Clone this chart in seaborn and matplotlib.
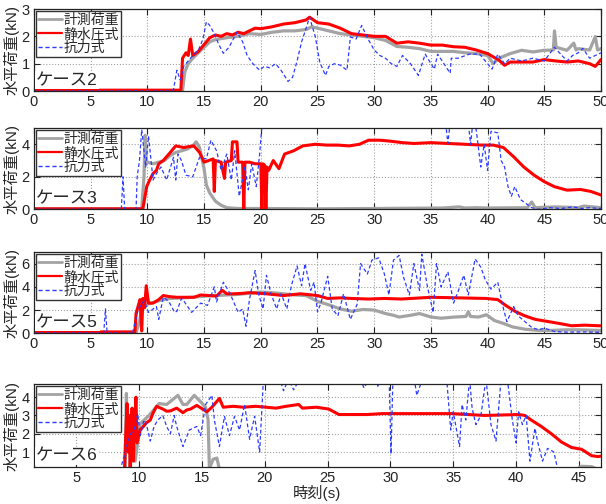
import matplotlib
matplotlib.use("Agg")
import matplotlib.pyplot as plt
import seaborn as sns
import pandas as pd
from matplotlib.lines import Line2D

# ---------------- data (time [s], horizontal load [kN]) ----------------
series_labels = ["計測荷重", "静水圧式", "抗力式"]
case_labels = ["ケース2", "ケース3", "ケース5", "ケース6"]

case2_meas = [(0, 0.02), (13.1, 0.02), (13.3, 0.7), (13.6, 1.0), (14.0, 1.2), (14.5, 1.4), (15.0, 1.6),
              (15.5, 1.8), (16.0, 1.88), (17.0, 1.95), (18.0, 2.0), (19.0, 2.1), (20.0, 2.07), (21.0, 2.15),
              (22.0, 2.2), (23.0, 2.2), (24.0, 2.25), (24.5, 2.35), (25.0, 2.3), (26.0, 2.2), (27.0, 2.1),
              (28.0, 2.05), (29.0, 2.0), (30.0, 1.95), (31.0, 1.85), (32.0, 1.63), (33.0, 1.6), (34.0, 1.55),
              (35.0, 1.45), (36.0, 1.45), (37.0, 1.45), (38.0, 1.4), (39.0, 1.37), (40.0, 1.3), (40.5, 1.0),
              (41.0, 1.2), (42.0, 1.37), (43.0, 1.49), (44.0, 1.43), (45.0, 1.49), (45.8, 1.5), (45.9, 2.2),
              (46.05, 1.6), (47.0, 1.49), (47.6, 1.75), (47.8, 1.5), (48.0, 1.55), (49.0, 1.5), (49.5, 1.99),
              (49.7, 1.5), (50.0, 1.55)]
case2_hydro = [(0, 0.03), (12.95, 0.03), (13.1, 1.2), (13.4, 1.4), (13.6, 1.3), (13.8, 1.9), (14.0, 1.3),
               (14.5, 1.45), (15.0, 1.7), (15.5, 1.95), (16.0, 2.05), (16.5, 2.0), (17.0, 2.1), (17.5, 2.05),
               (18.0, 2.15), (18.5, 2.1), (19.0, 2.2), (19.5, 2.3), (20.0, 2.28), (21.0, 2.35), (22.0, 2.45),
               (23.0, 2.5), (24.0, 2.6), (24.3, 2.7), (25.0, 2.5), (26.0, 2.45), (27.0, 2.3), (28.0, 2.1),
               (29.0, 2.05), (30.0, 2.0), (31.0, 2.0), (32.0, 1.75), (33.0, 1.8), (34.0, 1.75), (35.0, 1.68),
               (36.0, 1.68), (37.0, 1.62), (38.0, 1.6), (39.0, 1.5), (40.0, 1.37), (41.0, 1.13), (41.5, 0.94),
               (42.0, 1.06), (43.0, 1.06), (44.0, 1.06), (45.0, 1.15), (46.0, 1.1), (47.0, 1.06), (48.0, 1.1),
               (49.0, 1.0), (49.5, 0.9), (50.0, 1.15)]
case2_drag = [(0, 0.0), (11.8, 0.0), (12.3, 0.05), (12.6, 0.76), (12.9, 0.4), (13.2, 0.9), (13.6, 1.1),
              (14.0, 1.3), (14.5, 1.5), (14.9, 1.9), (15.2, 2.53), (15.5, 2.4), (15.9, 2.1), (16.3, 1.7),
              (16.7, 1.38), (17.2, 1.6), (17.9, 2.16), (18.4, 1.8), (18.8, 1.3), (19.3, 1.0), (19.9, 0.76),
              (20.3, 0.9), (20.8, 0.85), (21.3, 1.0), (21.8, 0.75), (22.4, 0.35), (22.8, 0.5), (23.2, 1.1),
              (23.6, 1.8), (24.0, 2.3), (24.3, 2.7), (24.8, 2.0), (25.2, 1.06), (25.7, 0.57), (26.0, 0.9),
              (26.5, 1.0), (27.0, 0.95), (27.6, 0.76), (27.9, 1.98), (28.4, 1.9), (28.9, 2.4), (29.4, 1.95),
              (30.0, 1.5), (30.5, 1.3), (31.0, 1.2), (31.5, 1.0), (32.0, 0.9), (32.5, 1.3), (33.2, 1.0),
              (33.9, 0.57), (34.5, 1.35), (35.3, 0.8), (35.6, 1.35), (36.7, 0.65), (36.8, 1.2), (37.4, 1.2),
              (38.4, 1.35), (39.3, 1.35), (40.4, 0.8), (40.9, 1.35), (41.5, 1.0), (42.0, 1.2), (43.0, 1.1),
              (44.0, 1.2), (45.0, 1.1), (45.9, 1.6), (47.0, 1.1), (47.5, 1.3), (48.0, 1.4), (48.4, 1.56),
              (49.0, 1.2), (50.0, 1.4)]

case3_meas = [(0, 0.03), (9.5, 0.03), (9.7, 2.0), (9.8, 4.55), (9.9, 2.8), (10.0, 2.9), (10.5, 2.8),
              (11.0, 2.9), (11.5, 3.0), (12.0, 3.3), (12.5, 3.5), (13.0, 3.6), (13.5, 3.7), (14.0, 3.9),
              (14.3, 4.15), (14.6, 3.8), (15.0, 2.5), (15.2, 1.5), (15.5, 1.0), (16.0, 0.5), (16.5, 0.25),
              (17.0, 0.1), (18.0, 0.05), (20.0, 0.05), (25.0, 0.03), (30.0, 0.05), (36.0, 0.08), (37.5, 0.15),
              (38.0, 0.08), (39.0, 0.1), (40.0, 0.08), (43.5, 0.1), (43.9, 0.45), (44.2, 0.1), (46.0, 0.15),
              (48.0, 0.1), (48.5, 0.2), (50.0, 0.1)]
case3_hydro = [(0, 0.03), (9.6, 0.03), (9.94, 1.4), (10.2, 1.8), (10.5, 2.2), (10.8, 2.4), (11.0, 2.8),
               (11.4, 3.0), (11.9, 3.4), (12.5, 3.9), (13.2, 3.8), (13.6, 3.85), (14.1, 3.9), (14.6, 3.5),
               (15.0, 2.9), (15.4, 3.0), (15.8, 3.1), (15.9, 1.1), (16.0, 3.0), (16.5, 2.9), (16.8, 1.9),
               (16.9, 2.9), (17.4, 3.0), (17.5, 4.15), (17.9, 4.15), (18.0, 2.9), (18.4, 2.9), (18.5, 0.0),
               (18.6, 2.9), (19.0, 2.9), (19.5, 2.8), (20.0, 2.8), (20.1, 0.0), (20.2, 2.8), (20.35, 2.7),
               (20.45, 0.0), (20.55, 2.6), (20.7, 2.4), (21.1, 3.0), (21.6, 2.5), (22.1, 3.4), (22.9, 3.6),
               (23.7, 3.9), (24.8, 4.0), (25.8, 3.95), (26.8, 3.95), (27.8, 3.9), (28.7, 4.0), (29.5, 4.25),
               (30.5, 4.25), (31.3, 4.2), (32.5, 4.1), (33.5, 4.05), (35.0, 4.1), (36.5, 4.05), (38.0, 4.0),
               (39.5, 3.95), (40.5, 3.95), (41.4, 3.8), (42.3, 3.23), (43.2, 2.6), (44.1, 2.1), (45.0, 1.7),
               (45.9, 1.39), (47.0, 1.18), (48.2, 1.22), (49.1, 1.1), (50.0, 0.88)]
case3_drag = [(0, 0.0), (7.7, 0.0), (7.85, 2.0), (8.0, 0.0), (9.0, 0.0), (9.1, 2.0), (9.3, 3.0), (9.5, 4.9),
              (9.85, 2.6), (10.1, 4.5), (10.5, 1.8), (10.8, 2.2), (11.2, 2.6), (11.7, 1.8), (12.3, 3.2),
              (12.5, 1.8), (12.7, 3.4), (13.0, 3.0), (13.4, 2.1), (14.0, 2.0), (14.6, 3.2), (15.2, 3.1),
              (15.6, 4.25), (16.1, 3.6), (16.5, 2.4), (17.0, 3.4), (17.4, 1.8), (17.7, 3.6), (18.1, 0.8),
              (18.6, 2.6), (18.9, 1.2), (19.2, 2.8), (19.6, 1.4), (19.9, 3.4), (20.2, 6.0), (36.2, 6.0),
              (36.5, 4.05), (36.8, 6.0), (38.2, 6.0), (38.5, 4.0), (38.8, 6.0), (39.4, 2.6), (39.7, 4.0),
              (40.0, 2.4), (40.3, 4.8), (40.9, 4.7), (41.2, 3.0), (41.5, 2.6), (41.8, 1.4), (42.1, 0.8),
              (42.4, 1.4), (42.9, 0.6), (43.3, 0.4), (43.9, 0.1), (44.5, 0.0), (45.5, 0.1), (46.5, 0.05),
              (47.5, 0.15), (48.3, 0.05), (49.0, 0.1), (50.0, 0.05)]

case5_meas = [(0, 0.05), (9.0, 0.05), (9.3, 1.0), (9.5, 2.0), (10.0, 2.5), (11.0, 2.8), (12.0, 3.0),
              (13.0, 3.05), (14.0, 3.1), (15.0, 3.2), (16.0, 3.25), (17.0, 3.3), (18.0, 3.35), (19.0, 3.45),
              (20.0, 3.55), (21.0, 3.5), (22.0, 3.4), (23.0, 3.3), (24.0, 3.25), (25.0, 2.75), (26.0, 2.45),
              (27.0, 2.1), (28.0, 1.9), (29.0, 2.05), (30.0, 2.0), (31.0, 1.7), (31.7, 1.55), (32.2, 1.4),
              (33.2, 1.55), (34.0, 1.7), (35.0, 1.4), (35.9, 1.3), (37.1, 1.4), (38.1, 1.45), (38.3, 1.85),
              (38.5, 1.45), (39.2, 1.4), (39.9, 1.6), (40.6, 1.1), (41.4, 0.85), (42.2, 0.55), (43.3, 0.35),
              (44.5, 0.25), (45.7, 0.25), (46.9, 0.3), (48.1, 0.3), (49.8, 0.25), (50.0, 0.25)]
case5_hydro = [(0, 0.12), (8.9, 0.12), (9.0, 1.7), (9.2, 2.4), (9.35, 2.9), (9.5, 0.2), (9.6, 3.0),
               (9.75, 2.2), (9.9, 4.1), (10.1, 2.6), (10.5, 2.6), (11.0, 2.9), (11.4, 3.25), (12.0, 3.15),
               (12.6, 3.1), (13.5, 3.1), (14.1, 3.1), (14.7, 3.3), (15.5, 3.25), (16.1, 3.2), (16.6, 3.7),
               (17.0, 3.4), (17.6, 3.4), (18.5, 3.45), (19.0, 3.5), (20.5, 3.4), (22.0, 3.25), (23.5, 3.4),
               (24.5, 3.3), (25.0, 3.25), (25.9, 3.0), (27.0, 3.05), (28.0, 3.0), (29.5, 2.95), (30.9, 3.0),
               (32.4, 2.95), (35.0, 3.1), (37.5, 3.05), (39.9, 3.0), (40.9, 2.9), (41.6, 2.4), (42.5, 1.85),
               (43.3, 1.5), (44.2, 1.2), (45.1, 1.05), (46.3, 0.85), (47.4, 0.65), (48.6, 0.7), (49.8, 0.65),
               (50.0, 0.65)]
case5_drag = [(0, 0.03), (6.15, 0.03), (6.3, 2.1), (6.45, 0.03), (8.7, 0.03), (8.8, 0.5), (9.2, 2.1),
              (9.7, 2.8), (10.1, 1.8), (10.8, 2.3), (11.0, 1.2), (11.4, 3.1), (11.7, 2.9), (12.0, 2.55),
              (12.4, 1.8), (12.6, 1.9), (13.0, 3.0), (13.2, 2.8), (13.9, 1.8), (14.7, 2.6), (15.3, 2.4),
              (15.9, 4.0), (16.1, 2.7), (16.7, 4.4), (17.3, 3.4), (18.0, 1.8), (18.4, 2.1), (18.7, 0.6),
              (19.0, 2.9), (19.5, 5.4), (19.8, 3.4), (20.2, 2.1), (20.5, 5.0), (20.9, 3.4), (21.4, 2.1),
              (21.8, 3.4), (22.3, 2.1), (22.7, 4.1), (23.2, 5.8), (23.6, 4.1), (23.9, 6.0), (24.4, 3.7),
              (24.7, 4.4), (25.0, 1.85), (25.3, 2.6), (25.9, 4.9), (26.3, 2.1), (26.8, 1.5), (27.3, 3.4),
              (27.9, 1.2), (28.5, 2.5), (28.8, 6.0), (29.4, 5.1), (29.8, 6.3), (30.4, 6.5), (30.9, 5.1),
              (31.3, 3.3), (31.7, 6.3), (32.2, 6.7), (32.6, 4.8), (33.1, 3.3), (33.5, 6.0), (34.0, 3.7),
              (34.2, 6.8), (34.7, 4.0), (35.2, 1.8), (35.5, 6.0), (35.9, 4.0), (36.5, 5.3), (37.0, 2.6),
              (37.4, 3.6), (37.9, 5.0), (38.3, 3.3), (38.9, 6.4), (39.4, 5.7), (39.8, 4.6), (40.3, 3.8),
              (40.9, 4.4), (41.3, 2.5), (41.7, 1.0), (42.3, 2.3), (42.7, 1.5), (43.3, 1.0), (43.9, 0.5),
              (44.5, 0.3), (45.0, 0.45), (45.9, 0.15), (47.0, 0.1), (48.5, 0.12), (50.0, 0.08)]

case6_meas = [(0, 0.0), (8.9, 0.0), (9.0, 4.2), (9.1, 1.0), (9.2, 3.0), (9.3, 0.0), (9.5, 2.0), (9.7, 0.5),
              (10.1, 2.55), (10.8, 3.0), (11.6, 3.65), (12.2, 3.6), (13.1, 4.1), (13.5, 3.6), (13.8, 3.6),
              (14.4, 4.1), (14.9, 3.75), (15.3, 3.45), (15.5, 2.75), (15.6, 0.1), (15.9, 0.6), (16.2, 0.67),
              (16.4, 0.05), (44.8, 0.05), (45.2, 0.22), (46.0, 0.2), (46.5, 0.05), (47.0, 0.05)]
case6_hydro = [(0, 0.0), (8.85, 0.0), (8.95, 2.0), (9.05, 3.65), (9.15, 1.0), (9.25, 3.0), (9.3, 0.0),
               (9.45, 3.4), (9.55, 0.5), (9.65, 2.5), (9.76, 4.0), (9.85, 1.5), (10.1, 2.2), (10.6, 2.6),
               (10.9, 2.75), (11.1, 3.1), (11.4, 3.5), (11.9, 3.35), (12.2, 3.23), (12.5, 3.25), (13.0, 3.4),
               (13.5, 3.15), (13.8, 3.3), (14.1, 3.35), (14.6, 3.55), (15.4, 3.2), (15.8, 3.45), (16.4, 3.93),
               (16.7, 3.45), (17.5, 3.5), (18.3, 3.45), (19.3, 3.5), (20.1, 3.45), (20.9, 3.4), (21.7, 3.5),
               (22.7, 3.6), (23.0, 3.4), (24.1, 3.45), (25.1, 3.35), (25.9, 3.05), (26.7, 3.05), (28.1, 3.05),
               (29.4, 3.1), (30.9, 3.1), (33.0, 3.1), (34.9, 3.1), (37.5, 3.0), (40.2, 3.05), (40.7, 3.0),
               (41.2, 2.75), (42.0, 2.4), (42.8, 2.0), (43.6, 1.55), (44.4, 1.25), (45.2, 1.15), (46.0, 0.8),
               (46.5, 0.75), (47.0, 0.8)]
case6_drag = [(0, 0.0), (8.5, 0.0), (8.85, 0.85), (9.1, 1.5), (9.35, 2.0), (9.6, 2.2), (9.9, 3.1),
              (10.1, 1.9), (10.4, 2.75), (10.6, 2.5), (10.9, 1.6), (11.2, 2.4), (11.5, 2.75), (11.9, 3.0),
              (12.2, 2.4), (12.5, 2.0), (12.8, 3.0), (13.0, 2.4), (13.5, 1.3), (14.0, 2.2), (14.6, 2.4),
              (14.9, 1.9), (15.3, 3.6), (15.8, 4.1), (16.0, 2.75), (16.4, 1.3), (16.8, 2.95), (17.2, 1.9),
              (17.6, 2.95), (18.0, 2.2), (18.4, 3.6), (18.8, 1.7), (19.2, 2.95), (19.6, 1.0), (19.9, 5.0),
              (21.2, 5.0), (21.5, 4.35), (21.9, 5.0), (22.3, 4.4), (22.8, 5.0), (27.6, 5.0), (27.9, 4.5),
              (28.3, 5.0), (29.0, 4.6), (29.3, 5.0), (29.9, 5.0), (30.05, 0.9), (30.2, 5.0), (31.9, 5.0),
              (32.1, 4.1), (32.4, 4.7), (33.3, 4.75), (34.5, 4.8), (34.8, 2.2), (35.0, 3.2), (35.5, 1.3),
              (35.7, 3.6), (36.0, 2.75), (36.3, 5.0), (36.5, 3.4), (36.8, 2.5), (37.2, 3.0), (37.6, 5.0),
              (38.0, 2.5), (38.4, 1.6), (38.8, 5.0), (39.3, 5.0), (39.7, 2.75), (40.0, 1.5), (40.2, 3.2),
              (40.5, 2.5), (40.8, 3.0), (41.1, 0.5), (41.5, 2.3), (41.7, 1.6), (42.1, 0.5), (42.5, 1.2),
              (43.0, 1.0), (43.3, 0.1), (47.0, 0.0)]

x_limits = [(0, 50), (0, 50), (0, 50), (1.65, 46.75)]
y_limits = [(0, 3), (0, 5), (0, 7), (0.18, 4.72)]
x_ticks = [list(range(0, 51, 5))] * 3 + [list(range(5, 46, 5))]
y_ticks = [[0, 1, 2, 3], [0, 2, 4], [0, 2, 4, 6], [1, 2, 3, 4]]
panels = [(case2_meas, case2_hydro, case2_drag), (case3_meas, case3_hydro, case3_drag),
          (case5_meas, case5_hydro, case5_drag), (case6_meas, case6_hydro, case6_drag)]

# ---------------- styling ----------------
sns.set_style("ticks")
plt.rcParams['font.family'] = ['Liberation Sans', 'Noto Sans CJK JP']
plt.rcParams['axes.unicode_minus'] = False

colors = ["#a3a3a3", "#ff0000", "#2b3cff"]
widths = [2.3, 2.2, 0.9]

fig = plt.figure(figsize=(6.06, 5.04), dpi=100)
rects = [(0.0561, 0.8194, 0.9356, 0.1627),
         (0.0561, 0.5847, 0.9356, 0.1613),
         (0.0561, 0.3387, 0.9356, 0.1613),
         (0.0561, 0.0734, 0.9356, 0.1647)]

for i, rect in enumerate(rects):
    ax = fig.add_axes(rect)
    for k, ser in enumerate(panels[i]):
        df = pd.DataFrame(ser, columns=["t", "v"])
        sns.lineplot(data=df, x="t", y="v", ax=ax, color=colors[k], linewidth=widths[k],
                     estimator=None, sort=False, legend=False)
        if k == 2:
            ax.lines[-1].set_dashes([3, 2])
    ax.set_xlim(*x_limits[i])
    ax.set_ylim(*y_limits[i])
    ax.set_xticks(x_ticks[i])
    ax.set_yticks(y_ticks[i])
    ax.grid(True, linestyle=':', color='#a0a0a0', linewidth=0.8)
    ax.set_axisbelow(True)
    ax.tick_params(direction='in', top=True, right=True, length=4, width=0.8,
                   labelsize=10.5, pad=3, colors='#222222')
    for s in ax.spines.values():
        s.set_linewidth(0.9)
        s.set_color('#222222')
    ax.set_xlabel("時刻(s)" if i == 3 else "", fontsize=11, labelpad=0)
    ax.set_ylabel("水平荷重(kN)", fontsize=11)
    ax.yaxis.set_label_coords(-0.026, 0.5)
    handles = [Line2D([], [], color=colors[0], lw=2.0),
               Line2D([], [], color=colors[1], lw=1.6),
               Line2D([], [], color=colors[2], lw=1.0, dashes=[3, 2])]
    leg = ax.legend(handles, series_labels, loc='upper left', fontsize=10, frameon=True,
                    fancybox=False, edgecolor='#333333', framealpha=1, borderpad=0.15,
                    labelspacing=0.0, handlelength=1.7, handletextpad=0.15, borderaxespad=0.15)
    leg.get_frame().set_linewidth(1.0)
    ax.text(0.004, 0.04, case_labels[i], transform=ax.transAxes, fontsize=12.5, va='bottom', ha='left',
            bbox=dict(facecolor='white', edgecolor='none', pad=1.0), zorder=10)

fig.savefig("out.png", dpi=100)
